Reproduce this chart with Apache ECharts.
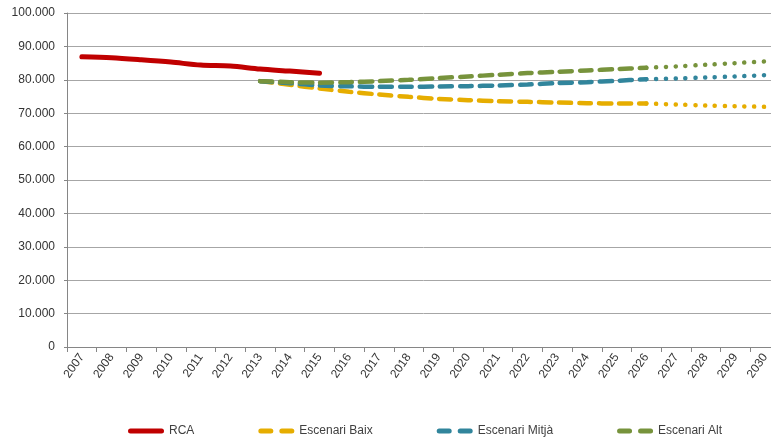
<!DOCTYPE html>
<html>
<head>
<meta charset="utf-8">
<script src="https://cdn.jsdelivr.net/npm/echarts@6/dist/echarts.min.js"></script>
<style>
  html, body { margin: 0; padding: 0; background: #fff; overflow: hidden; }
  /* the plot area runs a little past the right edge of the picture */
  #chart { width: 780px; height: 439px; }
</style>
</head>
<body>
<div id="chart"></div>
<script>
// categories
const years = ['2007', '2008', '2009', '2010', '2011', '2012', '2013', '2014', '2015', '2016', '2017', '2018',
  '2019', '2020', '2021', '2022', '2023', '2024', '2025', '2026', '2027', '2028', '2029', '2030']

// observed values (2007-2015)
const rca = [86900, 86600, 86000, 85300, 84400, 84100, 83200, 82600, 81950]

// scenarios (2013-2030)
const baix = [79600, 78500, 77400, 76400, 75600, 74900, 74300, 73900, 73600, 73400, 73200, 73000, 72900, 72900,
  72600, 72300, 72100, 71900]
const mitja = [79600, 79000, 78300, 78050, 77900, 77900, 78000, 78100, 78300, 78600, 79000, 79300, 79700, 80200,
  80400, 80700, 81000, 81400]
const alt = [79600, 79300, 79150, 79300, 79600, 80000, 80500, 81000, 81500, 82000, 82400, 82800, 83200, 83600,
  84000, 84500, 85000, 85500]

const scenarioStart = '2013'
const dashedEnd = '2026'

const yTicks = { min: 0, max: 100000, interval: 10000 }

const colors = {
  rca: '#c00000',
  baix: '#e6ad00',
  mitja: '#31859c',
  alt: '#77933c'
}

// legend icons: solid capsule and two dashes
const solidIcon = 'path://M2.5,0 h31 a2.5,2.5 0 0 1 0,5 h-31 a2.5,2.5 0 0 1 0,-5 z'
const dashIcon = 'path://M2.5,0 h10 a2.5,2.5 0 0 1 0,5 h-10 a2.5,2.5 0 0 1 0,-5 z ' +
  'M23.5,0 h10 a2.5,2.5 0 0 1 0,5 h-10 a2.5,2.5 0 0 1 0,-5 z'

// put a scenario on the full year axis, keeping only years in [from, to]
function place (values, from, to) {
  const start = years.indexOf(scenarioStart)
  return years.map(function (y, i) {
    const k = i - start
    if (k < 0 || k >= values.length) return null
    if (y < from || y > to) return null
    return values[k]
  })
}

function scenarioSeries (name, values, color) {
  return [
    {
      name: name,
      type: 'line',
      data: place(values, scenarioStart, dashedEnd),
      symbol: 'none',
      smooth: 0.3,
      lineStyle: { color: color, width: 4.5, type: [12, 8], cap: 'round' },
      itemStyle: { color: color }
    },
    {
      name: name + ' (dots)',
      type: 'line',
      data: place(values, dashedEnd, '2030'),
      symbol: 'none',
      smooth: 0.3,
      lineStyle: { color: color, width: 4.5, type: [0.1, 9.7], cap: 'round' },
      itemStyle: { color: color }
    }
  ]
}

const chart = echarts.init(document.getElementById('chart'), null, { renderer: 'canvas' })

const fontFamily = '"Liberation Sans", Arial, sans-serif'

const option = {
  animation: false,
  textStyle: { fontFamily: fontFamily },
  grid: { left: 67, top: 13, bottom: 92, right: 0 },
  legend: {
    data: [
      { name: 'RCA', icon: solidIcon },
      { name: 'Escenari Baix', icon: dashIcon },
      { name: 'Escenari Mitjà', icon: dashIcon },
      { name: 'Escenari Alt', icon: dashIcon }
    ],
    left: 123,
    bottom: -3,
    itemWidth: 36,
    itemHeight: 5,
    itemGap: 64,
    textStyle: { fontSize: 12, color: '#404040', fontFamily: fontFamily }
  },
  xAxis: {
    type: 'category',
    data: years,
    boundaryGap: true,
    axisLine: { lineStyle: { color: '#868686', width: 1 } },
    axisTick: { show: true, length: 5, lineStyle: { color: '#868686' } },
    axisLabel: { rotate: 55, fontSize: 12, color: '#333', margin: 8, interval: 0 },
    splitLine: { show: false }
  },
  yAxis: {
    type: 'value',
    min: yTicks.min,
    max: yTicks.max,
    interval: yTicks.interval,
    axisLine: { show: true, lineStyle: { color: '#868686' } },
    axisTick: { show: true, length: 3, lineStyle: { color: '#868686' } },
    axisLabel: {
      fontSize: 12,
      color: '#333',
      margin: 12,
      formatter: function (v) { return String(v).replace(/\B(?=(\d{3})+(?!\d))/g, '.') }
    },
    splitLine: { lineStyle: { color: '#a6a6a6', width: 1 } }
  },
  series: [
    {
      name: 'RCA',
      type: 'line',
      data: rca,
      symbol: 'none',
      smooth: 0.3,
      lineStyle: { color: colors.rca, width: 5, cap: 'round' },
      itemStyle: { color: colors.rca }
    }
  ].concat(
    scenarioSeries('Escenari Baix', baix, colors.baix),
    scenarioSeries('Escenari Mitjà', mitja, colors.mitja),
    scenarioSeries('Escenari Alt', alt, colors.alt)
  )
}

chart.setOption(option)
</script>
</body>
</html>
